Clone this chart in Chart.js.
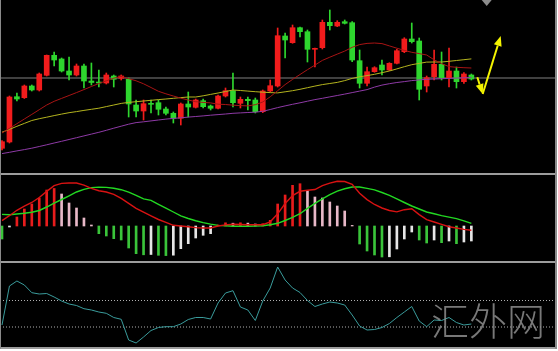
<!DOCTYPE html>
<html><head><meta charset="utf-8">
<script src="https://cdn.jsdelivr.net/npm/chart.js@4.4.1/dist/chart.umd.min.js"></script>
<style>
html,body{margin:0;padding:0;background:#fff;}
#frame{position:absolute;left:0;top:0;width:557px;height:349px;background:#000;overflow:hidden;}
canvas{position:absolute;left:0;}
.hl{position:absolute;left:0;width:557px;height:2px;background:#9c9c9c;}
.vl{position:absolute;top:0;height:349px;background:#8a8a8a;}
#wm{position:absolute;left:431px;top:300px;font-family:"Noto Sans CJK SC","Noto Sans CJK JP",sans-serif;font-size:38px;line-height:38px;color:rgba(150,150,150,0.8);font-weight:300;white-space:nowrap;}
</style></head>
<body>
<div id="frame">
<canvas id="main" width="556" height="173" style="top:0px"></canvas>
<canvas id="macd" width="556" height="86" style="top:175px"></canvas>
<canvas id="osc" width="556" height="84" style="top:263px"></canvas>
<div class="hl" style="top:173px"></div>
<div class="hl" style="top:261px"></div>
<div class="hl" style="top:347px"></div>
<div class="vl" style="left:0px;width:1px"></div>
<div class="vl" style="left:555px;width:2px"></div>
<div id="wm">汇外网</div>
</div>
<script>
// ---- price candles (arbitrary units) ----
const opens  = [24.7,31,76.3,75.3,87,83,97.7,117.7,114,102,98,107,92,91,90,97,94.7,93.7,68,62,69.5,70.3,64,59.7,54.7,69,65.7,72.3,67,64.7,77,82.3,69.7,73.7,73,61.3,82,87,137,130.3,145.3,141.3,123.7,125.3,150.7,147,151.3,150.3,112.3,89.7,101.3,108,103,109.7,121.3,134,132,87,96.3,108.7,95.3,102,91.3,98];
const closes = [31.3,76,74,87,83,99,117.7,113,102,98,107,92,90.5,90,98,93.7,97,69,62,69.3,68.7,63.7,59.7,54.7,69,66,73,66.3,64.7,77,82.3,70.3,73.7,72.3,61.3,82,87.3,137.3,133,145.3,141.3,123.7,124.7,150.7,147.3,150.7,149.7,113,89.7,101.3,105.3,103,109.7,122.3,134,131.3,83.7,95.3,108.7,95.3,102,91.3,99,94];
const highs  = [32.5,77,80,88,88,100,118,121,115,116,109,109,110,103,100,98,98,95,73,73,73,73,66,61,70,81,74,74,68,78,85,100,76,76,75,83,93,145,140,148,146,143,125,153,163,152.3,153,151.3,123,106,106.3,113,110.3,123.7,135.3,150,135,97,123,121,125,106,100.3,99];
const lows   = [23,30,72,74.5,82,82,97,107,101,93,97,85,88,86,89,86,93,56,56,53,60,58,58,50,48,56,65,65,63,64,76,66,65,63,60,60.3,81,86,115,129.7,136,111,106,124,143,146.3,149,111.3,85,87,100.7,98,102.3,109,120.3,130,73,81,93,93,86,85,89.7,93];
// ---- moving averages ----
const maRed    = [40,44.6,49.3,54,58.6,63.3,68,71.7,74.6,77.5,80.4,83.4,86.5,89.5,92.2,94.8,96.6,94.4,92.2,89.2,85.5,81.7,79.2,77,74.8,73,71.3,70.6,70.1,68.8,68.5,67.8,67.4,67.1,68.3,71,76.2,82.3,88.4,93.6,98.5,103.3,107.9,112.6,115.8,118.9,121.9,125.7,128.4,129.6,130,129.4,127.1,124.8,122.6,120.7,119.4,118,113.2,109.4,106.4,105.7,105.3,105];
const maYellow = [40.8,43.6,46.7,49.6,52.5,54.3,55.8,57.4,58.9,60.3,61.4,62.6,63.7,64.8,66.4,68,69.6,70.6,71.3,72,72.7,73.4,74,74.7,75.4,76,76,77.2,78.6,80,81.5,83,82.5,81.9,81.3,80.8,80.4,80.1,81.2,82.3,83.7,85.3,86.9,88.4,89.5,90.6,92.4,94.6,96.2,97.4,98.7,100.3,102,104.1,106.3,108.3,109.6,110.9,111,111,111.7,112.5,113.3,114.1];
const maPurple = [19.4,20.7,22.1,23.4,24.8,26.5,28.2,30,31.7,33.5,35.3,37.1,38.9,40.7,42.7,44.8,46.8,48.8,50.4,51.2,52.1,53,53.9,54.6,55.2,55.9,56.5,57.1,57.8,58.4,59,59.7,60.1,60.5,60.8,61.7,63.5,65.4,67.1,68.7,70.2,71.8,73.4,74.7,76.1,77.5,78.9,80.4,81.9,83.4,85.9,87.9,89.3,90.5,91.4,92.4,93.1,93.7,94,94.3,94.6,94.9,95.2,95.5];
const priceLevel = 95;
// ---- MACD ----
const macdLine   = [5.3,10.3,15.7,19.9,23.5,28.5,34.6,40.4,42.6,43,43,40.8,37.7,35.3,34,31.7,27.7,22.7,17.6,13.8,10.2,6.5,3.6,0.7,0,-0.8,-1.6,-2,-2,0,1.1,1.7,1.5,1.3,1.3,1.3,4.2,12.2,22.5,30.4,34.7,35.7,36.5,40.3,42.9,44.7,44.5,41.7,32.8,26.4,21.5,18,15.5,14.1,16.3,17.2,11.4,6.3,4,1.7,-0.7,-2,-3.4,-4.3];
const signalLine = [11.6,11.3,12,12.7,13.7,15.5,19,22.8,26.5,30.2,34,36.7,38.4,38.9,38.6,37.7,36.3,33.8,30.7,27.1,25.6,21.7,17.8,14,10.1,7.5,5.3,3.4,1.9,0.6,0.2,-0.3,-0.3,-0.3,0,0.3,1.2,2.7,5.5,8.6,12.3,17.6,22.7,27.2,31.4,34.9,37.2,39,39,37.6,36.1,33.5,30.6,27.2,23.5,20,17,14,12.2,10.4,8.9,7.4,5.2,2.7];
const histogram  = [-13,-1,9,17,22,28,36,37.5,32,23,18,8,1,-7.7,-10,-12.7,-14,-22,-27.7,-28.8,-28.5,-29.3,-29.6,-29.2,-22.7,-17.7,-12,-9.3,-7.7,1,3.2,2.8,3.2,2.9,2,2.3,5.7,22,31,40.7,42.3,35.5,29,28,24,20,15,0.6,-18,-25,-29,-31,-30.8,-23,-13,-6,-14,-17,-14,-16.7,-15,-17.7,-16,-15];
// ---- oscillator ----
const oscillator = [21,60,65,61,53.3,52,52.5,49,45,42,40.5,37.3,36,34,32.7,28.5,26.7,6,3,9,15.5,18.5,19.3,19.3,22,26.5,28.5,28.5,27,43,53,55.3,39,36,25.5,45,58,79,66,58,53.5,45.5,39.5,42,44,43,41,31,20,16,16.5,18.5,22.5,28.5,34,39.5,25,19.3,26,25.5,28.5,23.5,21,22];
const oscLevels = [45.5, 19];
// ---- annotations (index, value) ----
const arrowPath = [[63.8,95.7],[64.52,79],[66.94,137]];
const shiftMarker = 65.06;

const XMIN = -0.2685, XMAX = 74.36;
const idx = opens.map((_, i) => i);
const pts = arr => arr.map((v, i) => ({x: i, y: v}));
const UP = '#f21c1c', DOWN = '#2ed62e';

function baseOptions(yMin, yMax) {
  return {
    responsive: false, animation: false, devicePixelRatio: 1, events: [],
    layout: {padding: 0},
    plugins: {legend: {display: false}, tooltip: {enabled: false}},
    scales: {
      x: {type: 'linear', min: XMIN, max: XMAX, display: false, offset: false},
      y: {type: 'linear', min: yMin, max: yMax, display: false}
    }
  };
}
function lineDs(data, color, width, order, dash) {
  return {type: 'line', data, borderColor: color, borderWidth: width, pointRadius: 0, tension: 0, fill: false, order, borderDash: dash || []};
}
const levelLine = (v, color, order, dash) => lineDs([{x: XMIN, y: v}, {x: XMAX, y: v}], color, 1, order, dash);

const candleColors = idx.map(i => closes[i] >= opens[i] ? UP : DOWN);

const arrowPlugin = {
  id: 'arrows',
  afterDatasetsDraw(chart) {
    const {ctx} = chart, xs = chart.scales.x, ys = chart.scales.y;
    const p = arrowPath.map(a => [xs.getPixelForValue(a[0]), ys.getPixelForValue(a[1])]);
    ctx.save();
    ctx.strokeStyle = ctx.fillStyle = '#f4f400';
    ctx.lineWidth = 2;
    for (let k = 1; k < p.length; k++) {
      const [x0, y0] = p[k-1], [x1, y1] = p[k];
      const ang = Math.atan2(y1 - y0, x1 - x0), L = 10, W = 4;
      const bx = x1 - L * Math.cos(ang), by = y1 - L * Math.sin(ang);
      ctx.beginPath(); ctx.moveTo(x0, y0); ctx.lineTo(bx, by); ctx.stroke();
      ctx.beginPath(); ctx.moveTo(x1, y1);
      ctx.lineTo(bx + W * Math.sin(ang), by - W * Math.cos(ang));
      ctx.lineTo(bx - W * Math.sin(ang), by + W * Math.cos(ang));
      ctx.closePath(); ctx.fill();
    }
    const mx = xs.getPixelForValue(shiftMarker), top = chart.chartArea.top;
    ctx.fillStyle = '#8c8c8c';
    ctx.beginPath(); ctx.moveTo(mx - 5, top); ctx.lineTo(mx + 5, top); ctx.lineTo(mx, top + 6); ctx.closePath(); ctx.fill();
    ctx.restore();
  }
};

new Chart(document.getElementById('main'), {
  type: 'bar',
  data: {datasets: [
    levelLine(priceLevel, '#808080', 10),
    {type: 'bar', data: idx.map(i => ({x: i, y: [lows[i], highs[i]]})), backgroundColor: candleColors, barThickness: 1, grouped: false, borderWidth: 0, order: 6},
    {type: 'bar', data: idx.map(i => ({x: i, y: [opens[i], closes[i]]})), backgroundColor: candleColors, barThickness: 5, grouped: false, borderWidth: 0, minBarLength: 1, order: 5},
    lineDs(pts(maPurple), '#8e3aa6', 1, 3),
    lineDs(pts(maYellow), '#b4b41e', 1, 2),
    lineDs(pts(maRed), '#a81414', 1, 1)
  ]},
  options: baseOptions(0, 173),
  plugins: [arrowPlugin]
});

const histColors = histogram.map((v, i) => {
  const prev = i > 0 ? histogram[i-1] : v;
  if (v >= 0) return v >= prev ? '#e81c1c' : '#e8b8c8';
  return v <= prev ? '#3ac43a' : '#e6e6e6';
});
new Chart(document.getElementById('macd'), {
  type: 'bar',
  data: {datasets: [
    {type: 'bar', data: idx.map(i => ({x: i, y: [0, histogram[i]]})), backgroundColor: histColors, barThickness: 2, grouped: false, borderWidth: 0, order: 5},
    lineDs(pts(signalLine), '#22d822', 1.4, 2),
    lineDs(pts(macdLine), '#d81212', 1.4, 1)
  ]},
  options: baseOptions(-35, 51)
});

new Chart(document.getElementById('osc'), {
  type: 'line',
  data: {datasets: [
    levelLine(oscLevels[0], '#b0b0b0', 5, [1, 2]),
    levelLine(oscLevels[1], '#b0b0b0', 5, [1, 2]),
    lineDs(pts(oscillator), '#3a9c9c', 1, 1)
  ]},
  options: baseOptions(-1, 83)
});
</script>
</body></html>
